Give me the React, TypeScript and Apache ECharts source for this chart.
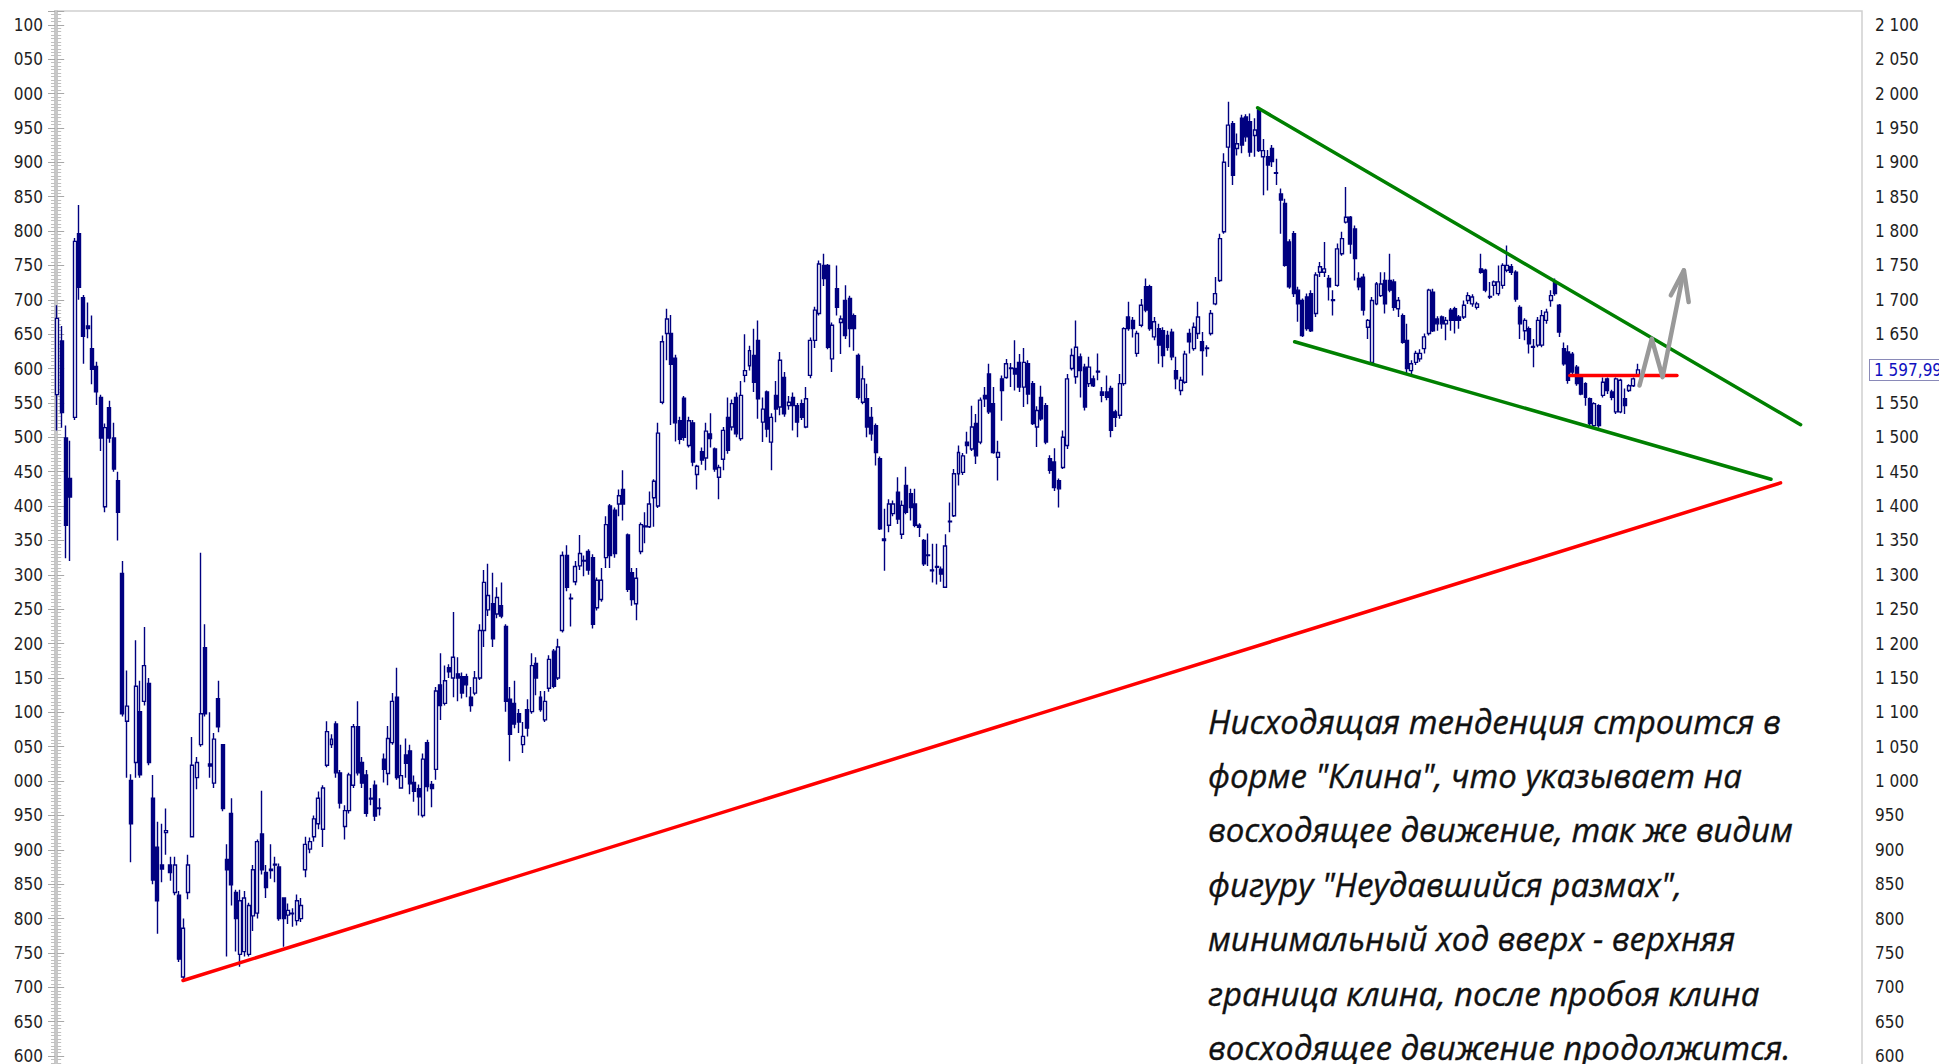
import React, { useEffect, useRef } from "react";
import * as echarts from "echarts";

// Candles as [open, close, low, high], split by period
const period1: number[][] = [
  [1562,1673,1510,1692],[1640,1536,1514,1662],[1499,1372,1324,1517],[1440,1413,1320,1495],[1529,1785,1525,1790],
  [1796,1718,1700,1838],[1703,1647,1607,1707],[1662,1658,1644,1696],[1629,1599,1577,1677],[1603,1566,1547,1610],
  [1558,1499,1480,1562],[1399,1514,1391,1520],[1543,1499,1492,1553],[1499,1454,1450,1521],[1437,1391,1350,1450],
  [1302,1098,1094,1320],[1087,1109,1005,1161],[1001,938,882,1010],[1027,1138,1005,1205],[1101,1009,1005,1146],
  [1116,1168,1110,1224],[1142,1027,1023,1150],[975,856,850,1009],[904,826,778,941],[878,872,853,938],
  [925,928,893,960],[878,867,855,890],[838,878,834,890],[834,741,737,840],[715,786,711,800],
  [838,878,828,893],[919,1023,919,1064],[1005,1027,988,1035],[1053,1098,1050,1332],[1194,1098,1094,1228],
  [1025,1022,1005,1100],[997,1061,990,1070],[1120,1079,1071,1146],[1053,960,956,1053],[886,871,745,908],
  [953,849,819,975],[838,800,752,842],[748,826,730,842],[752,830,745,840],[748,819,745,823],
  [804,871,782,878],[808,912,800,915],[923,871,864,986],[867,845,830,878],[870,872,858,908],
  [878,879,853,890],[875,800,797,880],[830,800,759,830],[805,812,792,822],[808,807,788,815],[797,826,790,835],
  [800,819,795,830],[871,908,860,919],[901,912,895,918],[919,945,912,950],[938,975,930,985],
  [930,990,904,994],[1023,1072,1020,1087],[1053,1061,1048,1068],[1083,1012,1005,1087],[1012,968,960,1016],
  [934,957,915,965],[957,1009,953,1012],[994,1079,990,1083],[1079,1012,1008,1116],[1027,997,990,1035],
  [1009,953,948,1016],[975,974,965,990],[994,949,942,1001],[960,961,950,975]
];
const period2: number[][] = [
  [1032,1017,998,1040],[1011,1062,994,1080],[1056,1116,1053,1128],[1122,1005,1002,1165],[990,1008,990,1053],
  [1038,1026,1005,1062],[1044,996,981,1053],[998,985,970,1008],[989,977,950,995],[950,1032,947,1040],[1056,992,985,1060],
  [995,989,962,1000],[1017,1131,1002,1137],[1140,1110,1089,1186],[1113,1146,1110,1168],[1165,1159,1150,1170],
  [1150,1180,1122,1246],[1156,1150,1116,1180],[1152,1128,1120,1158],[1152,1140,1122,1156],[1122,1110,1101,1137],
  [1128,1150,1125,1160],[1150,1219,1147,1228],[1219,1289,1195,1307],[1249,1270,1240,1316],[1258,1207,1195,1303],
  [1243,1267,1237,1282],[1255,1240,1237,1289],[1225,1116,1101,1228],[1119,1068,1029,1137],[1113,1083,1077,1146],
  [1098,1086,1070,1105],[1053,1065,1041,1086],[1104,1077,1065,1119],[1101,1168,1098,1186],[1171,1150,1125,1180],
  [1122,1104,1101,1131],[1089,1116,1086,1131],[1135,1177,1130,1183],[1189,1138,1135,1192],[1150,1195,1147,1207],
  [1219,1328,1216,1334],[1328,1282,1276,1343],[1266,1265,1225,1273],[1290,1312,1285,1320],[1313,1331,1307,1358],[1320,1321,1298,1328],
  [1334,1307,1300,1337],[1325,1228,1222,1330],[1252,1292,1248,1296],[1264,1292,1261,1310],[1325,1373,1310,1385],
  [1400,1328,1310,1403],[1394,1331,1325,1398],[1403,1415,1385,1424],[1424,1403,1379,1452],[1358,1279,1275,1360],
  [1303,1264,1255,1310],[1258,1295,1234,1310],[1334,1373,1330,1376],[1371,1370,1346,1391],[1370,1403,1368,1421],
  [1412,1436,1370,1439],[1400,1506,1397,1521],[1551,1639,1548,1648],[1651,1672,1612,1687],[1651,1606,1518,1678],
  [1615,1521,1494,1620],[1524,1497,1490,1530],[1557,1500,1495,1560],[1488,1524,1485,1530],[1521,1464,1458,1525],
  [1446,1458,1424,1460],[1479,1467,1460,1485],[1470,1509,1452,1521]
];
const period3: number[][] = [
  [1505,1498,1485,1535],[1483,1454,1450,1485],[1442,1456,1410,1460],[1468,1510,1452,1515],[1529,1481,1476,1558],
  [1515,1549,1510,1555],[1558,1505,1500,1565],[1498,1561,1495,1582],[1590,1597,1580,1650],[1604,1626,1597,1633],
  [1619,1580,1566,1658],[1641,1556,1527,1670],[1522,1541,1493,1558],[1566,1512,1500,1568],[1493,1529,1452,1535],
  [1561,1541,1522,1582],[1544,1612,1532,1624],[1587,1534,1530,1595],[1546,1551,1540,1560],[1558,1546,1510,1565],
  [1546,1522,1500,1550],[1549,1529,1525,1555],[1515,1556,1513,1573],[1590,1641,1586,1645],[1641,1685,1630,1690],[1680,1752,1677,1757],
  [1750,1731,1720,1767],[1750,1631,1628,1752],[1614,1663,1595,1667],[1716,1689,1677,1750],[1667,1672,1621,1677],
  [1699,1648,1643,1721],[1702,1658,1631,1706],[1677,1658,1626,1680],[1619,1558,1555,1622],[1551,1585,1548,1604],
  [1556,1515,1500,1578],[1529,1505,1495,1544],[1517,1478,1459,1520],[1469,1367,1365,1472],[1352,1350,1306,1396],
  [1372,1403,1362,1410],[1389,1403,1385,1408],[1420,1381,1374,1442],[1359,1401,1352,1408],[1430,1391,1388,1457],
  [1418,1398,1379,1425],[1403,1372,1369,1425],[1372,1369,1355,1375],[1350,1316,1313,1352],[1329,1328,1313,1360],
  [1307,1306,1289,1345],[1312,1311,1286,1345],[1308,1301,1290,1312],[1282,1342,1281,1359],[1378,1377,1362,1405],
  [1386,1447,1384,1454],[1447,1478,1430,1488],[1449,1473,1445,1477],[1493,1488,1476,1508],[1483,1515,1480,1546],
  [1520,1473,1461,1534],[1493,1554,1490,1558],[1561,1556,1544,1573],[1592,1537,1534,1607],[1549,1478,1476,1573],
  [1471,1478,1437,1495],[1585,1568,1524,1590],[1587,1607,1585,1614],[1600,1601,1573,1608],[1600,1592,1568,1641],
  [1609,1573,1566,1621],[1573,1609,1544,1630]
];
const period4: number[][] = [
  [1607,1563,1548,1612],[1578,1520,1518,1582],[1515,1539,1486,1545],[1558,1527,1524,1575],[1546,1493,1490,1550],
  [1469,1452,1447,1474],[1464,1427,1422,1484],[1437,1425,1398,1440],[1456,1500,1454,1510],[1488,1585,1483,1592],
  [1600,1619,1597,1629],[1588,1631,1578,1670],[1617,1597,1558,1622],[1602,1544,1539,1607],[1578,1602,1573,1617],
  [1585,1575,1573,1590],[1596,1595,1583,1622],[1566,1561,1551,1573],[1566,1558,1554,1590],[1571,1510,1500,1575],
  [1537,1529,1515,1540],[1532,1578,1527,1592],[1578,1658,1575,1660],[1675,1658,1655,1697],[1670,1658,1645,1675],
  [1622,1651,1617,1655],[1663,1692,1660,1701],[1719,1685,1682,1731],[1719,1658,1655,1722],[1646,1668,1641,1675],
  [1658,1634,1607,1665],[1655,1619,1602,1660],[1648,1631,1626,1655],[1653,1617,1612,1658],[1597,1585,1570,1617],
  [1568,1583,1561,1588],[1580,1621,1578,1626],[1651,1639,1622,1658],[1629,1660,1626,1667],
  [1651,1675,1643,1697],[1639,1626,1590,1653],[1630,1629,1617,1634],[1651,1680,1648,1685],[1694,1709,1692,1733],
  [1728,1789,1726,1796],[1799,1900,1796,1913],[1922,1954,1893,1988],[1956,1881,1867,1960],[1920,1927,1910,1942],
  [1964,1925,1913,1969],[1966,1937,1930,1970],[1959,1915,1908,1971],[1939,1947,1908,1964],[1976,1917,1915,1978],
  [1908,1917,1852,1934],[1908,1896,1859,1918],[1920,1901,1893,1925],[1885,1884,1867,1905],[1854,1845,1796,1862],
  [1840,1750,1748,1847],[1784,1719,1716,1788],[1796,1709,1704,1800],[1714,1694,1668,1719],[1699,1648,1646,1702],
  [1704,1658,1655,1709],[1709,1655,1653,1714],[1680,1736,1675,1740],[1740,1748,1733,1755],[1740,1745,1733,1784],
  [1731,1719,1699,1736],[1700,1699,1677,1714],[1721,1774,1719,1782],[1767,1789,1764,1799],[1813,1820,1811,1864],
  [1820,1781,1767,1822]
];
const period5: number[][] = [
  [1803,1760,1728,1808],[1731,1719,1714,1740],[1733,1685,1677,1738],[1660,1670,1643,1672],
  [1609,1699,1607,1704],[1694,1723,1692,1726],[1706,1723,1704,1740],[1728,1694,1680,1740],[1728,1714,1711,1767],
  [1726,1689,1684,1730],[1687,1699,1675,1704],[1677,1638,1636,1680],[1641,1600,1592,1665],
  [1597,1607,1592,1612],[1609,1622,1605,1626],[1614,1622,1610,1628],[1629,1646,1622,1651],[1651,1714,1648,1716],
  [1711,1655,1653,1716],[1672,1665,1655,1676],[1675,1665,1658,1677],[1665,1670,1641,1675],[1685,1670,1655,1688],
  [1687,1670,1651,1690],[1675,1670,1658,1678],[1675,1692,1672,1699],[1699,1706,1694,1711],[1694,1704,1690,1708],
  [1689,1694,1686,1697],[1745,1740,1738,1767],[1743,1714,1711,1745],[1705,1704,1701,1726],[1721,1726,1706,1728],
  [1709,1726,1706,1750],[1721,1750,1716,1753],[1743,1750,1740,1779],[1748,1740,1736,1752],[1740,1701,1697,1743],
  [1689,1665,1643,1692],[1655,1670,1641,1673],[1658,1636,1622,1661],[1632,1631,1602,1643],[1634,1670,1631,1675],
  [1634,1677,1631,1685],[1670,1682,1665,1687],[1699,1706,1690,1714],[1726,1709,1706,1731],[1692,1653,1646,1694],
  [1629,1607,1604,1638],[1624,1583,1578,1634],[1621,1595,1590,1624],[1602,1578,1575,1605],[1588,1563,1561,1590],
  [1578,1558,1546,1580],[1556,1520,1517,1558],[1517,1549,1515,1551],[1546,1517,1514,1548],[1561,1580,1558,1587],
  [1585,1568,1563,1587],[1566,1558,1554,1569],[1537,1585,1534,1587],[1537,1583,1535,1585],[1556,1546,1534,1571],
  [1568,1575,1566,1577],[1575,1585,1573,1587],[1590,1597.99,1588,1607]
];

const candles = [...period1, ...period2, ...period3, ...period4, ...period5];
const SLOTS = 415; // bar slots on the time axis (the right part is empty future space)
const categories = Array.from({ length: SLOTS }, (_, i) => String(i));
const lastPrice = 1597.99;
const lastPriceLabel = "1 597,99";
const hiddenRightTick = 1600; // covered by the last-price box in the original

// Drawn lines: [bar index, price]
const supportLine = [[28.9, 710], [395.8, 1433.7]];
const wedgeUpper = [[275.7, 1979.3], [400.4, 1518.3]];
const wedgeLower = [[284.2, 1639], [393.6, 1439]];
const neckLine = [[347.4, 1590], [372.0, 1590]];
const arrowPath = [[363.4, 1575.4], [366.2, 1643.4], [368.7, 1587.5], [373.6, 1742.8]];
const arrowHead = [[370.6, 1706.5], [373.6, 1742.8], [374.7, 1696.7]];

const noteLines = [
  "Нисходящая тенденция строится в",
  "форме \"Клина\", что указывает на",
  "восходящее движение, так же видим",
  "фигуру \"Неудавшийся размах\",",
  "минимальный ход вверх - верхняя",
  "граница клина, после пробоя клина",
  "восходящее движение продолжится.",
];

const Y_MIN = 550;
const Y_MAX = 2120;
const STEP = 50;

const axisFont = "'Liberation Sans Narrow', 'DejaVu Sans Condensed', 'Arial Narrow', sans-serif";

function rightLabel(v: number): string {
  if (v % STEP !== 0 || v === hiddenRightTick) return "";
  if (v >= 1000) return `${Math.floor(v / 1000)} ${String(v % 1000).padStart(3, "0")}`;
  return String(v);
}
function leftLabel(v: number): string {
  if (v % STEP !== 0) return "";
  return String(v % 1000).padStart(3, "0");
}

function lineSeries(data: number[][], color: string, width: number) {
  return {
    type: "line",
    xAxisIndex: 1,
    yAxisIndex: 0,
    data,
    symbol: "none",
    silent: true,
    z: 5,
    lineStyle: { color, width, cap: "round", join: "round" },
  };
}

export default function App() {
  const ref = useRef<HTMLDivElement>(null);
  useEffect(() => {
    if (!ref.current) return;
    const chart = echarts.init(ref.current, null, { renderer: "svg" });
    const yCommon = {
      type: "value",
      min: Y_MIN,
      max: Y_MAX,
      interval: STEP,
      splitLine: { show: false },
      axisLine: { show: true, lineStyle: { color: "#c8c8c8", width: 2 } },
      axisTick: { show: true, length: 7, lineStyle: { color: "#a8a8a8" } },
      minorTick: { show: true, splitNumber: 10, length: 4, lineStyle: { color: "#c0c0c0" } },
      minorSplitLine: { show: false },
    };
    chart.setOption({
      animation: false,
      backgroundColor: "#ffffff",
      grid: {
        left: 55,
        right: 77,
        top: 11,
        bottom: 1,
        show: true,
        borderColor: "#d0d0d0",
        borderWidth: 1.5,
        backgroundColor: "#ffffff",
      },
      xAxis: [
        { type: "category", data: categories, show: false, boundaryGap: true },
        { type: "value", min: -0.5, max: SLOTS - 0.5, show: false },
      ],
      yAxis: [
        {
          ...yCommon,
          position: "right",
          axisLabel: { formatter: rightLabel, color: "#1e1e1e", fontSize: 17, fontFamily: axisFont, margin: 13 },
        },
        {
          ...yCommon,
          position: "left",
          axisLabel: { formatter: leftLabel, color: "#1e1e1e", fontSize: 17, fontFamily: axisFont, margin: 12 },
        },
      ],
      series: [
        {
          type: "candlestick",
          xAxisIndex: 0,
          yAxisIndex: 0,
          data: candles,
          barWidth: "80%",
          itemStyle: {
            color: "#ffffff",
            color0: "#000080",
            borderColor: "#000080",
            borderColor0: "#000080",
            borderWidth: 1.4,
          },
        },
        lineSeries(supportLine, "#ff0000", 3.5),
        lineSeries(wedgeUpper, "#008000", 3.5),
        lineSeries(wedgeLower, "#008000", 3.5),
        lineSeries(neckLine, "#ff0000", 3.5),
        lineSeries(arrowPath, "#999999", 4.5),
        lineSeries(arrowHead, "#999999", 4.5),
      ],
    });

    const priceY = chart.convertToPixel({ yAxisIndex: 0 }, lastPrice) as number;
    const gridRight = 1939 - 77;
    const noteEls = noteLines.map((t, i) => ({
      type: "text",
      id: "note" + i,
      x: 1208,
      y: 704.5 + i * 54.4,
      silent: true,
      z: 50,
      style: {
        text: t,
        fill: "#111111",
        stroke: "#111111",
        lineWidth: 0.35,
        font: "italic 400 33px 'Open Sans', 'Noto Sans', sans-serif",
        textVerticalAlign: "top",
      },
    }));
    chart.setOption({
      graphic: [
        ...noteEls,
        {
          type: "text",
          id: "lastPrice",
          x: gridRight + 8,
          y: priceY,
          z: 100,
          silent: true,
          style: {
            text: lastPriceLabel,
            fill: "#1010c0",
            font: `17px ${axisFont}`,
            verticalAlign: "middle",
            align: "left",
            backgroundColor: "#ffffff",
            borderColor: "#8a8ab8",
            borderWidth: 1,
            padding: [2, 20, 1, 4],
          },
        },
      ],
    });
    return () => chart.dispose();
  }, []);
  return (
    <div style={{ position: "fixed", left: 0, top: 0, width: 1939, height: 1064, overflow: "hidden", background: "#fff" }}>
      <div ref={ref} style={{ width: 1939, height: 1099 }} />
    </div>
  );
}
